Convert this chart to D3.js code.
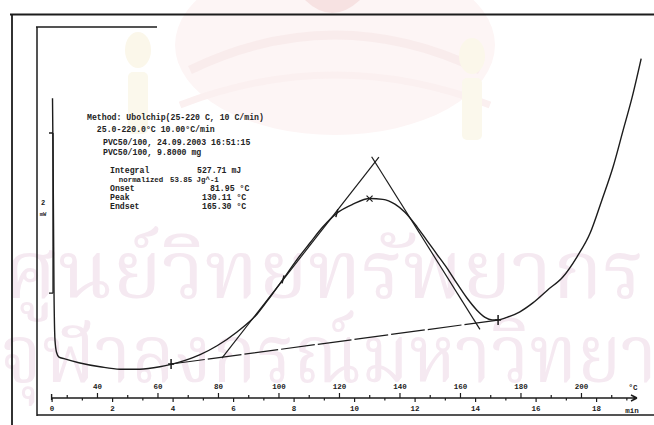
<!DOCTYPE html>
<html>
<head>
<meta charset="utf-8">
<script src="https://cdn.jsdelivr.net/npm/d3@7"></script>
<style>
  html, body { margin: 0; padding: 0; background: #fff; }
  svg { display: block; }
  .mono { font-family: "Liberation Mono", "DejaVu Sans Mono", monospace; font-weight: bold; fill: #222; }
</style>
</head>
<body>
<svg id="chart" width="654" height="425"></svg>
<script>
// DSC heating run, temperature in °C, heat flow in mW
const curveT = [25.3, 25.46, 25.63, 25.79, 26.12, 26.62, 27.45, 29.1, 34.0, 41.0, 47.6, 54.2, 60.8, 64.5,
  69.1, 74.1, 79.7, 86.3, 92.9, 97.2, 101.5, 105.8, 110.4, 114.7, 119.3, 124.6, 130.2, 134.5, 138.5,
  141.8, 145.8, 149.1, 152.4, 155.7, 159.0, 162.3, 165.6, 168.3, 170.6, 172.6, 175.5, 179.8, 184.1,
  189.0, 194.0, 198.7, 203.0, 206.9, 210.6, 213.9, 216.9, 219.9];
const curveMW = [3.36, 2.72, 1.85, 0.99, 0.37, 0.22, 0.16, 0.14, 0.09, 0.04, 0.01, 0.01, 0.04, 0.07,
  0.12, 0.19, 0.30, 0.47, 0.69, 0.90, 1.12, 1.35, 1.57, 1.77, 1.94, 2.05, 2.12, 2.11, 2.05,
  1.95, 1.77, 1.60, 1.43, 1.26, 1.07, 0.89, 0.74, 0.65, 0.62, 0.62, 0.65, 0.72, 0.83,
  0.99, 1.15, 1.40, 1.69, 2.10, 2.51, 2.96, 3.37, 3.85];

// integration baseline and the two construction tangents
const baselineT = [64.5, 172.6];
const baselineMW = [0.074, 0.617];
const leftTangentT = [81.3, 133.2];
const leftTangentMW = [0.148, 2.633];
const rightTangentT = [130.8, 166.6];
const rightTangentMW = [2.636, 0.503];
const peakT = 130.11;

// axis ticks
const tempTicks = [40, 60, 80, 100, 120, 140, 160, 180, 200];
const tempMinor = [30, 50, 70, 90, 110, 130, 150, 170, 190, 210];
const timeTicks = [0, 2, 4, 6, 8, 10, 12, 14, 16, 18];
const timeMinor = [1, 3, 5, 7, 9, 11, 13, 15, 17, 19];

// annotation block
const headerLines = [
  "Method: Ubolchip(25-220 C, 10 C/min)",
  "  25.0-220.0°C 10.00°C/min"
];
const sampleLines = [
  "PVC50/100, 24.09.2003 16:51:15",
  "PVC50/100, 9.8000 mg"
];
const resultNames = ["Integral", "  normalized", "Onset", "Peak", "Endset"];
const resultValues = ["527.71 mJ", "53.85 Jg^-1", "81.95 °C", "130.11 °C", "165.30 °C"];

const svg = d3.select("#chart");
const ink = "#1c1c1c";

// ---- library watermark in the background ----
const wm = svg.append("g");
wm.append("ellipse").attr("cx", 335).attr("cy", 45).attr("rx", 160).attr("ry", 90)
  .attr("fill", "#fdf5f5");
wm.append("path").attr("d", "M190,70 Q335,0 480,70").attr("fill", "none")
  .attr("stroke", "#f9ecec").attr("stroke-width", 9);
wm.append("path").attr("d", "M180,105 Q335,45 490,105").attr("fill", "none")
  .attr("stroke", "#fbf0f0").attr("stroke-width", 7);
wm.append("path").attr("d", "M305,0 Q332,26 360,0 Z").attr("fill", "#f7e2e2");
[[138, 42], [472, 48]].forEach(([cx, cy]) => {
  wm.append("ellipse").attr("cx", cx).attr("cy", cy + 8).attr("rx", 13).attr("ry", 18).attr("fill", "#fbf7ea");
  wm.append("rect").attr("x", cx - 10).attr("y", cy + 30).attr("width", 20).attr("height", 62)
    .attr("rx", 5).attr("fill", "#fbf8ec");
});
const thaiFont = "'Noto Serif Thai', 'Norasi', 'Loma', 'Garuda', 'Noto Sans Thai', 'Noto Sans', sans-serif";
wm.append("text").attr("x", 4).attr("y", 298).attr("font-family", thaiFont)
  .attr("font-size", 80).attr("fill", "#f5e9f1").attr("textLength", 640)
  .attr("lengthAdjust", "spacingAndGlyphs").text("ศูนย์วิทยทรัพยากร");
wm.append("text").attr("x", 0).attr("y", 382).attr("font-family", thaiFont)
  .attr("font-size", 80).attr("fill", "#f5e9f1").attr("textLength", 745)
  .attr("lengthAdjust", "spacingAndGlyphs").text("จุฬาลงกรณ์มหาวิทยาลัย");

// ---- frames ----
const frame = svg.append("g").attr("stroke", ink).attr("fill", "none");
frame.append("path").attr("d", "M10,14.5H654M12,14V425").attr("stroke-width", 1.8);
frame.append("path").attr("d", "M37,27V416M36,27H157M37,415H654").attr("stroke-width", 1.5);

// ---- scales ----
const x = d3.scaleLinear().domain([25, 220]).range([51.6, 51.6 + 195 * 3.025]);
const xTime = d3.scaleLinear().domain([0, 19.5]).range([51.6, 51.6 + 19.5 * 30.25]);
const y = d3.scaleLinear().domain([0, 3.4]).range([370, 95]);

// ---- temperature / time axis ----
const axisY = 398;
const axisG = svg.append("g").attr("transform", `translate(0,${axisY})`);
axisG.append("path").attr("d", `M${x(25)},0H637M637,0l-6,-3M637,0l-6,3M${x(25)},-4V2`)
  .attr("stroke", ink).attr("stroke-width", 1.4).attr("fill", "none");

const tAxis = d3.axisTop(x).tickValues(tempTicks).tickSize(5).tickPadding(4).tickFormat(d3.format("d"));
const tMinorAxis = d3.axisTop(x).tickValues(tempMinor).tickSize(3).tickFormat("");
const mAxis = d3.axisBottom(xTime).tickValues(timeTicks).tickSize(4).tickPadding(4).tickFormat(d3.format("d"));
const mMinorAxis = d3.axisBottom(xTime).tickValues(timeMinor).tickSize(2.5).tickFormat("");
[tAxis, tMinorAxis, mAxis, mMinorAxis].forEach(a => {
  const g = axisG.append("g").call(a);
  g.select(".domain").remove();
  g.selectAll("line").attr("stroke", ink).attr("stroke-width", 1.2);
  g.selectAll("text").attr("class", "mono").attr("font-size", 7.5).attr("fill", ink);
});
axisG.append("text").attr("class", "mono").attr("x", 633).attr("y", -8).attr("font-size", 7.5)
  .attr("text-anchor", "middle").text("°C");
axisG.append("text").attr("class", "mono").attr("x", 632).attr("y", 15).attr("font-size", 7.5)
  .attr("text-anchor", "middle").text("min");

// ---- heat-flow scale bar (2 mW) ----
const barTop = y(2.93), barBot = y(0.95);
svg.append("path").attr("d", `M53,${barTop}V${barBot}M53,${barTop}h-4M53,${barBot}h-4`)
  .attr("stroke", ink).attr("stroke-width", 1.3).attr("fill", "none");
svg.append("text").attr("class", "mono").attr("x", 43).attr("y", (barTop + barBot) / 2 - 8)
  .attr("font-size", 7).attr("text-anchor", "middle").text("2");
svg.append("text").attr("class", "mono").attr("x", 43).attr("y", (barTop + barBot) / 2 + 3)
  .attr("font-size", 5.5).attr("text-anchor", "middle").text("mW");

// ---- construction lines ----
const seg = (ts, vs) => d3.line()(ts.map((t, i) => [x(t), y(vs[i])]));
svg.append("path").attr("d", seg(baselineT, baselineMW)).attr("stroke", ink)
  .attr("stroke-width", 1.2).attr("fill", "none").attr("stroke-dasharray", "34 3");
svg.append("path").attr("d", seg(leftTangentT, leftTangentMW)).attr("stroke", ink)
  .attr("stroke-width", 1.2).attr("fill", "none");
svg.append("path").attr("d", seg(rightTangentT, rightTangentMW)).attr("stroke", ink)
  .attr("stroke-width", 1.2).attr("fill", "none");

// ---- measured curve ----
const line = d3.line().x((d, i) => x(curveT[i])).y((d, i) => y(curveMW[i])).curve(d3.curveMonotoneX);
svg.append("path").datum(curveT).attr("d", line).attr("stroke", ink)
  .attr("stroke-width", 1.4).attr("fill", "none");

// integration limits and peak marks
const interp = t => {
  const i = d3.bisectLeft(curveT, t);
  const i0 = Math.max(0, i - 1), i1 = Math.min(curveT.length - 1, i);
  const f = curveT[i1] === curveT[i0] ? 0 : (t - curveT[i0]) / (curveT[i1] - curveT[i0]);
  return curveMW[i0] + f * (curveMW[i1] - curveMW[i0]);
};
baselineT.forEach((t, i) => {
  const px = x(t), py = y(baselineMW[i]);
  svg.append("path").attr("d", `M${px},${py - 5}V${py + 5}M${px - 3},${py}h6`)
    .attr("stroke", ink).attr("stroke-width", 1.5);
});
[101.5, 119.3].forEach(t => {
  const px = x(t), py = y(interp(t));
  svg.append("path").attr("d", `M${px - 1},${py + 4}L${px + 1},${py - 4}`)
    .attr("stroke", ink).attr("stroke-width", 1.5);
});
{
  const px = x(peakT), py = y(interp(peakT));
  svg.append("path").attr("d", `M${px - 3},${py - 3}L${px + 3},${py + 3}M${px - 3},${py + 3}L${px + 3},${py - 3}`)
    .attr("stroke", ink).attr("stroke-width", 1.2);
}

// ---- annotation text ----
const note = svg.append("g").attr("class", "mono").attr("font-size", 8.2);
headerLines.forEach((s, i) => {
  note.append("text").attr("x", 87).attr("y", 120 + i * 12).attr("xml:space", "preserve").text(s);
});
sampleLines.forEach((s, i) => {
  note.append("text").attr("x", 103).attr("y", 145 + i * 10).text(s);
});
resultNames.forEach((s, i) => {
  note.append("text").attr("x", 110).attr("y", 173 + i * 9).attr("xml:space", "preserve")
    .attr("font-size", i === 1 ? 7.4 : 8.2).text(s);
});
const valueX = [197, 170, 210, 202, 202];
resultValues.forEach((s, i) => {
  note.append("text").attr("x", valueX[i]).attr("y", 173 + i * 9)
    .attr("font-size", i === 1 ? 7.4 : 8.2).text(s);
});
</script>
</body>
</html>
